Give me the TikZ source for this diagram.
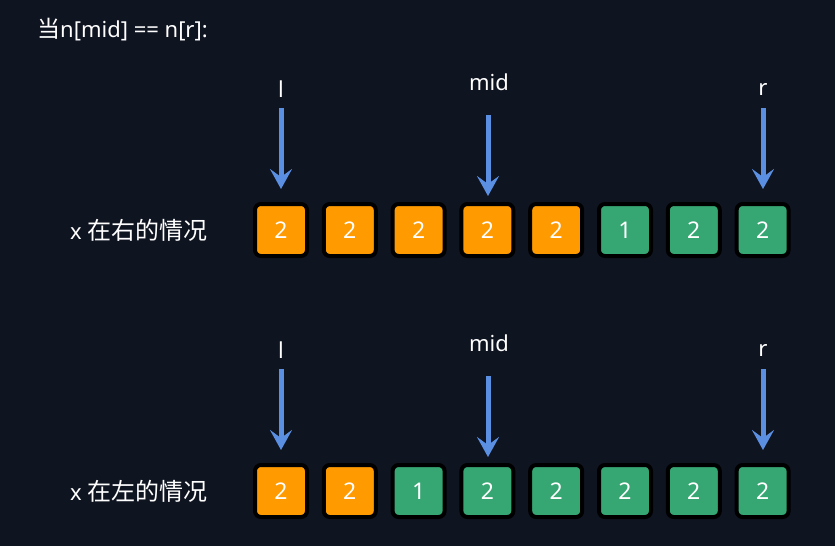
\documentclass[tikz,border=0pt]{standalone}
\usepackage{fontspec}
\setmainfont{Noto Sans}
\newfontfamily\cjk{Noto Sans CJK SC}
\usetikzlibrary{arrows.meta}
\definecolor{bg}{HTML}{0F1421}
\definecolor{org}{HTML}{FF9A00}
\definecolor{grn}{HTML}{36A673}
\definecolor{arr}{HTML}{5A8FE2}
\tikzset{
  cell/.style={draw=black, line width=4pt, rounded corners=6pt, minimum width=52pt, minimum height=52pt, inner sep=0pt, text=white, font=\fontsize{23}{27}\selectfont},
  o/.style={cell, fill=org},
  g/.style={cell, fill=grn},
  lbl/.style={text=white, font=\fontsize{22}{26}\selectfont, inner sep=0pt},
  ptr/.style={arr, line width=5pt, -{Stealth[length=20pt,width=22pt,inset=8pt]}}
}
\begin{document}
\begin{tikzpicture}[x=1pt,y=-1pt]
\fill[bg] (0,0) rectangle (835,546);
\useasboundingbox (0,0) rectangle (835,546);
\node[lbl, anchor=west] (title) at (37,30) {{\fontsize{23}{27}\selectfont\cjk 当}n[mid] == n[r]:};
% row 1
\node[lbl, anchor=west] (lab1) at (70,230) {x {\fontsize{24}{28}\selectfont\cjk 在右的情况}};
\foreach \i/\s/\v in {1/o/2,2/o/2,3/o/2,4/o/2,5/o/2,6/g/1,7/g/2,8/g/2}{
  \node[\s] (a\i) at ({281+68.8*(\i-1)},230) {\v};
}
\node[lbl] (l1) at (281,89) {l};
\node[lbl] (m1) at (489,82) {mid};
\node[lbl] (r1) at (763,89) {r};
\coordinate (l1s) at (281,108); \coordinate (l1e) at (281,189);
\coordinate (m1s) at (488,115); \coordinate (m1e) at (488,196);
\coordinate (r1s) at (763,108); \coordinate (r1e) at (763,189);
\draw[ptr] (l1s) -- (l1e);
\draw[ptr] (m1s) -- (m1e);
\draw[ptr] (r1s) -- (r1e);
% row 2
\node[lbl, anchor=west] (lab2) at (70,491) {x {\fontsize{24}{28}\selectfont\cjk 在左的情况}};
\foreach \i/\s/\v in {1/o/2,2/o/2,3/g/1,4/g/2,5/g/2,6/g/2,7/g/2,8/g/2}{
  \node[\s] (b\i) at ({281+68.8*(\i-1)},491) {\v};
}
\node[lbl] (l2) at (281,350) {l};
\node[lbl] (m2) at (489,343) {mid};
\node[lbl] (r2) at (763,350) {r};
\coordinate (l2s) at (281,369); \coordinate (l2e) at (281,450);
\coordinate (m2s) at (488,376); \coordinate (m2e) at (488,457);
\coordinate (r2s) at (763,369); \coordinate (r2e) at (763,450);
\draw[ptr] (l2s) -- (l2e);
\draw[ptr] (m2s) -- (m2e);
\draw[ptr] (r2s) -- (r2e);
\end{tikzpicture}
\end{document}
